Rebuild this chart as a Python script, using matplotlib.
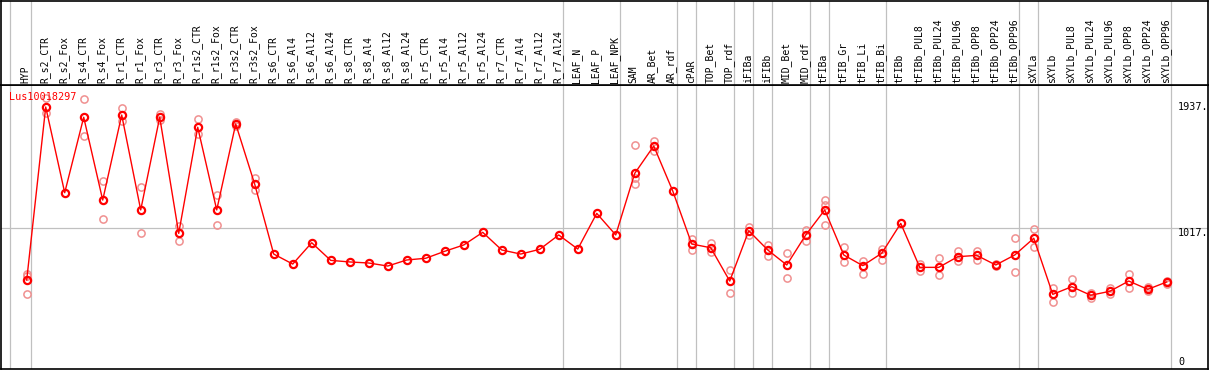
import numpy as np
import matplotlib
matplotlib.use("Agg")
import matplotlib.pyplot as plt
from matplotlib.transforms import blended_transform_factory

nan = np.nan

# Echantillons (colonnes)
samples = ["HYP", "R_s2_CTR", "R_s2_Fox", "R_s4_CTR", "R_s4_Fox", "R_r1_CTR", "R_r1_Fox",
           "R_r3_CTR", "R_r3_Fox", "R_r1s2_CTR", "R_r1s2_Fox", "R_r3s2_CTR", "R_r3s2_Fox",
           "R_s6_CTR", "R_s6_Al4", "R_s6_Al12", "R_s6_Al24", "R_s8_CTR", "R_s8_Al4",
           "R_s8_Al12", "R_s8_Al24", "R_r5_CTR", "R_r5_Al4", "R_r5_Al12", "R_r5_Al24",
           "R_r7_CTR", "R_r7_Al4", "R_r7_Al12", "R_r7_Al24", "LEAF_N", "LEAF_P", "LEAF_NPK",
           "SAM", "AR_Bet", "AR_rdf", "cPAR", "TOP_Bet", "TOP_rdf", "iFIBa", "iFIBb",
           "MID_Bet", "MID_rdf", "tFIBa", "tFIB_Gr", "tFIB_Li", "tFIB_Bi", "tFIBb",
           "tFIBb_PUL8", "tFIBb_PUL24", "tFIBb_PUL96", "tFIBb_OPP8", "tFIBb_OPP24",
           "tFIBb_OPP96", "sXYLa", "sXYLb", "sXYLb_PUL8", "sXYLb_PUL24", "sXYLb_PUL96",
           "sXYLb_OPP8", "sXYLb_OPP24", "sXYLb_OPP96"]

# moyenne
mean_expr = [623, 1937, 1286, 1859, 1230, 1876, 1155, 1859, 977, 1783, 1155, 1808, 1350,
             820, 744, 906, 772, 760, 752, 729, 775, 788, 841, 889, 985, 851, 820, 856, 965,
             858, 1129, 965,
             1433, 1641, 1299, 896, 868, 615, 997, 851, 737, 965, 1155, 813, 732, 826, 1053,
             719, 719, 800, 810, 737, 813, 940, 514, 572, 507, 537, 615, 552, 608]

# replicats
rep_hi = [666, 2003, nan, 1995, 1375, 1927, 1327, 1884, 1035, 1844, 1268, 1820, 1400,
          nan, nan, nan, nan, nan, nan, nan, nan, nan, nan, nan, nan, nan, nan, nan, nan,
          nan, nan, nan,
          1648, 1681, nan, 934, 902, 699, 1028, 889, 826, 1003, 1231, 871, 767, 856, nan,
          742, 788, 845, 845, 742, 940, 1008, 560, 628, 522, 560, 668, 572, 615]
rep_lo = [514, 1889, nan, 1717, 1084, 1833, 978, 1838, 921, 1732, 1038, 1795, 1306,
          nan, nan, nan, nan, nan, nan, nan, nan, nan, nan, nan, nan, nan, nan, nan, nan,
          nan, nan, nan,
          1352, 1603, nan, 851, 833, 522, 965, 805, 636, 921, 1038, 762, 666, 775, nan,
          691, 659, 767, 775, 729, 681, 871, 458, 522, 484, 514, 560, 537, 593]
rep_mid = [653] + [nan] * 31 + [1395] + [nan] * 9 + [1193] + [nan] * 18

sep_after = [-1.1, 0, 28, 31, 34, 35, 37, 38, 39, 41, 42, 45, 52, 53, 60]

gene = "Lus10018297"
y_ticks = [1937, 1017, 0]

W, H = 1209, 370
fig = plt.figure(figsize=(W / 100, H / 100), dpi=100)
ax = fig.add_axes([1 / W, 1 / H, 1207 / W, 284 / H])
hax = fig.add_axes([1 / W, 285 / H, 1207 / W, 84 / H], sharex=ax)

x = np.arange(len(samples))
ax.set_xlim(-1.353, 62.17)
ax.set_ylim(-53, 2104)

for a in (ax, hax):
    for s in a.spines.values():
        s.set_color("black")
        s.set_linewidth(1.2)
    a.tick_params(left=False, bottom=False, labelleft=False, labelbottom=False)
    for i in sep_after:
        a.axvline(i + 0.21, color="#c0c0c0", lw=0.9, zorder=0)
hax.set_ylim(0, 1)

ax.axhline(1017, color="#c0c0c0", lw=0.9, zorder=0)

# replicats (rose)
for rep in (rep_hi, rep_lo, rep_mid):
    ax.plot(x, rep, ls="none", marker="o", ms=5.2, mfc="none", mec="#f09090", mew=1.1, zorder=2)

# moyenne
ax.plot(x, mean_expr, color="red", lw=1.0, marker="o", ms=5.2, mfc="none", mec="red",
        mew=1.6, zorder=3)

ax.text(-0.92, 2015, gene, color="red", fontsize=7.3, family="DejaVu Sans Mono",
        va="center", ha="left")

for v in y_ticks:
    ax.text(60.6, v, f"{v}." if v else "0", fontsize=7.3, family="DejaVu Sans Mono",
            ha="left", va="top" if v == 1017 else "center")

tr = blended_transform_factory(ax.transData, hax.transAxes)
for i, lab in enumerate(samples):
    hax.text(i - 0.05, 0.024, lab, transform=tr, rotation=90, ha="center", va="bottom",
             fontsize=7, family="DejaVu Sans Mono")

fig.savefig("out.png", dpi=100)
